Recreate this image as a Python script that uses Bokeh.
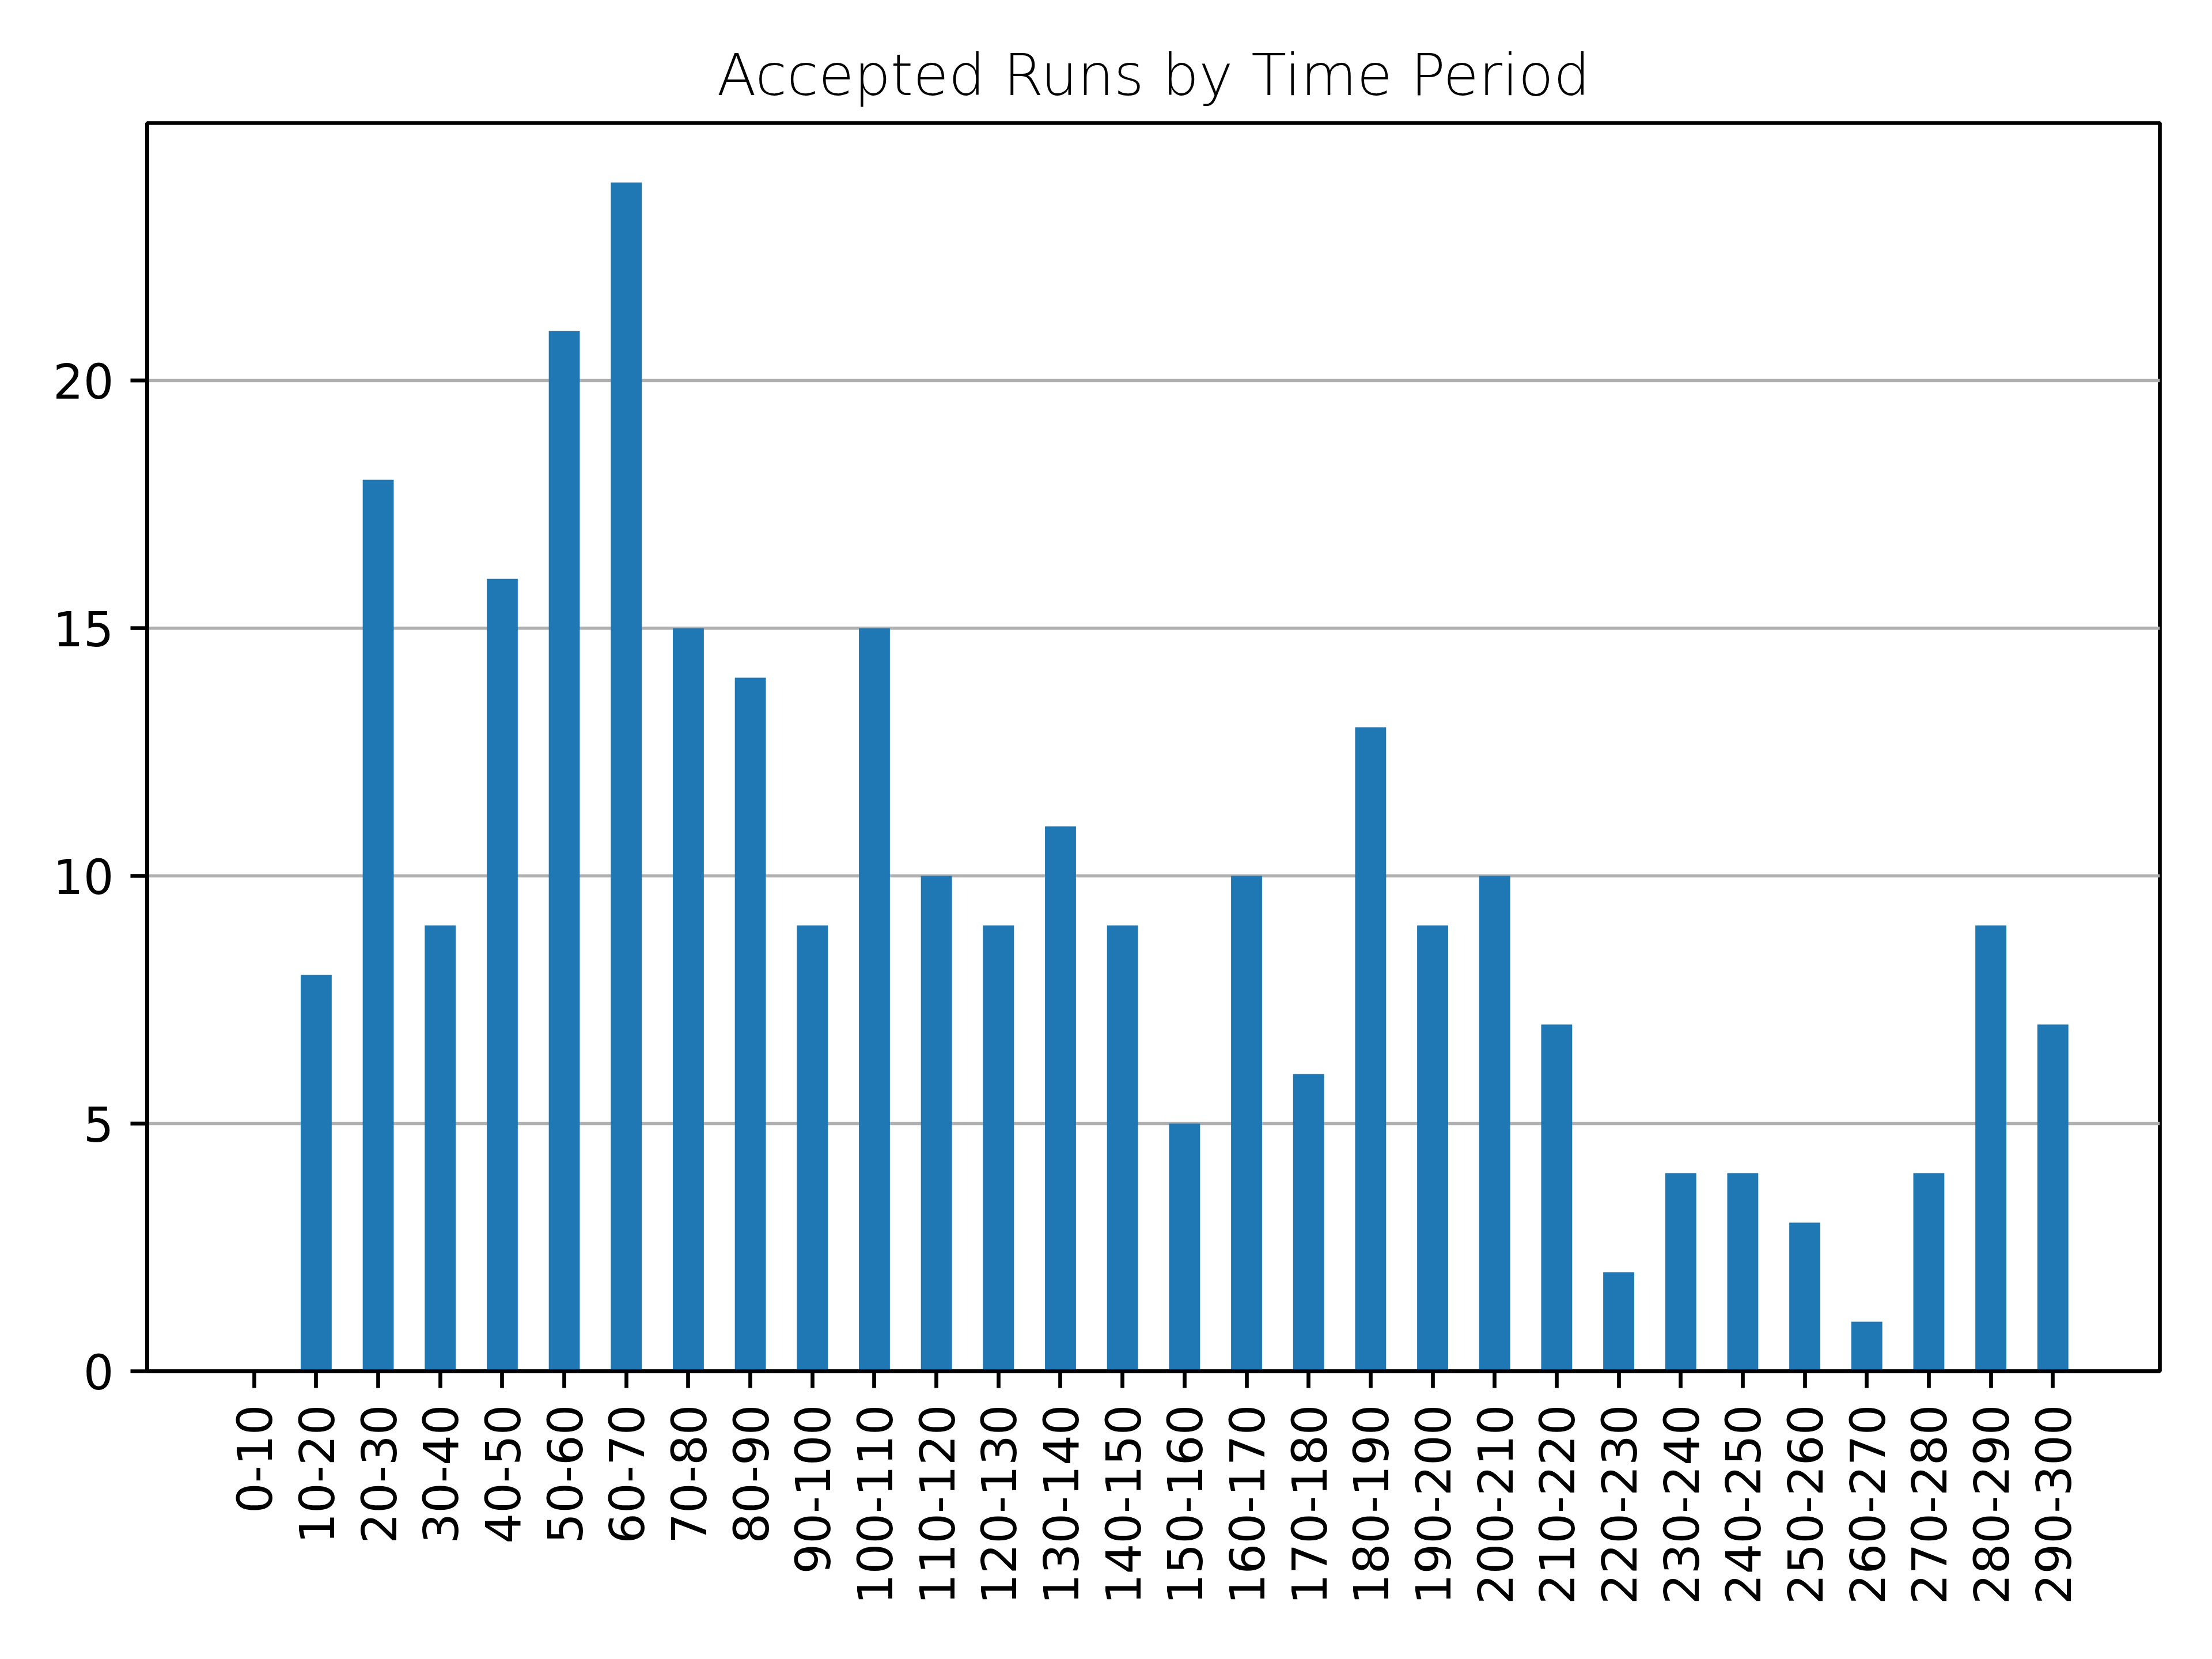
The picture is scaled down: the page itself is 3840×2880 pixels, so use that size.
import numpy as np
from bokeh.plotting import figure
from bokeh.models import Range1d, FixedTicker, Title
from bokeh.embed import file_html
from bokeh.resources import INLINE

categories = ["0-10", "10-20", "20-30", "30-40", "40-50", "50-60", "60-70", "70-80",
              "80-90", "90-100", "100-110", "110-120", "120-130", "130-140", "140-150",
              "150-160", "160-170", "170-180", "180-190", "190-200", "200-210", "210-220",
              "220-230", "230-240", "240-250", "250-260", "260-270", "270-280", "280-290",
              "290-300"]
counts = [0, 8, 18, 9, 16, 21, 24, 15, 14, 9, 15, 10, 9, 11, 9, 5, 10, 6, 13, 9, 10, 7,
          2, 4, 4, 3, 1, 4, 9, 7]
y_ticks = [0, 5, 10, 15, 20]
title_text = "Accepted Runs by Time Period"

FONT = "DejaVu Sans"
LW = 6.67

idx = list(range(len(categories)))
n = len(categories)
pad = 0.05 * (n - 1 + 0.5)

p = figure(width=3840, height=2880, output_backend="svg", toolbar_location=None,
           x_range=Range1d(-0.25 - pad, n - 1 + 0.25 + pad),
           y_range=Range1d(0, max(counts) * 1.05))
p.min_border_left = 255
p.min_border_right = 91
p.min_border_top = 213
p.min_border_bottom = 500
p.background_fill_color = "white"
p.border_fill_color = "white"
p.outline_line_color = "black"
p.outline_line_width = LW

p.title = None
t = Title(text=title_text, align="center", text_font=FONT, text_font_size="100px",
          text_font_style="normal", text_color="#000000", standoff=50)
p.add_layout(t, "above")

p.vbar(x=idx, top=counts, width=0.5, color="#1f77b4", line_color=None)

p.xgrid.grid_line_color = None
p.ygrid.grid_line_color = "#b0b0b0"
p.ygrid.grid_line_width = 5.5
p.ygrid.ticker = FixedTicker(ticks=y_ticks)

for ax in (p.xaxis[0], p.yaxis[0]):
    ax.axis_line_color = "black"
    ax.axis_line_width = LW
    ax.major_tick_line_color = "black"
    ax.major_tick_line_width = LW
    ax.major_tick_out = 29
    ax.major_tick_in = 0
    ax.minor_tick_line_color = None
    ax.major_label_text_font = FONT
    ax.major_label_text_font_size = "83px"
    ax.major_label_text_color = "black"
    ax.major_label_standoff = 29

p.xaxis[0].ticker = FixedTicker(ticks=idx)
p.xaxis[0].major_label_overrides = {i: c for i, c in zip(idx, categories)}
p.xaxis[0].major_label_orientation = np.pi / 2
p.yaxis[0].ticker = FixedTicker(ticks=y_ticks)

open("out.html", "w").write(file_html(p, INLINE))
